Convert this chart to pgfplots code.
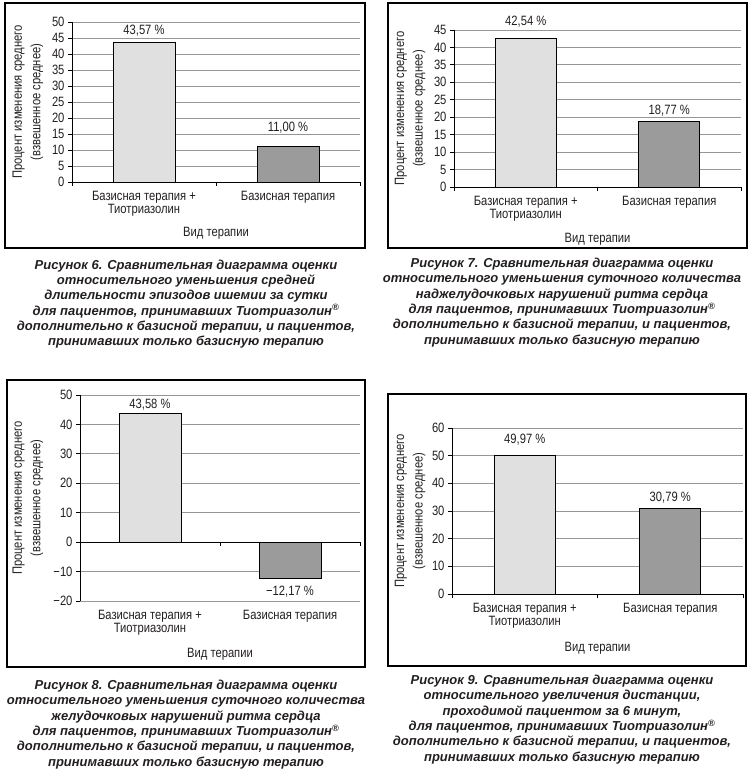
\documentclass[border=0pt]{standalone}
\usepackage{pgfplots}
\pgfplotsset{compat=1.18}
\usepackage{fontspec}
\setmainfont{Liberation Sans}
\newfontfamily\narrow[FakeStretch=0.83]{Liberation Sans}
\definecolor{barA}{RGB}{224,224,224}
\definecolor{barB}{RGB}{155,155,155}
\definecolor{gridc}{RGB}{150,150,150}
\definecolor{txt}{RGB}{35,31,32}
\pgfplotsset{
  panel/.style={
    scale only axis, clip=false,
    xmin=-0.5, xmax=1.5,
    axis lines*=left,
    axis line style={black, line width=0.8pt},
    tick align=outside,
    major tick length=4pt,
    tick style={black, line width=0.8pt},
    ymajorgrids, grid style={gridc, line width=0.8pt},
    xticklabels={},
    extra x ticks={0,1},
    extra x tick labels={{Базисная терапия +\\[-2.5pt]Тиотриазолин},{Базисная терапия}},
    extra x tick style={major tick length=0pt, grid=none},
    ticklabel style={font=\narrow\fontsize{13.5}{16}\selectfont, text=txt},
    xticklabel style={align=center, yshift=-5.5pt},
    /pgf/number format/assume math mode=true,
    label style={font=\narrow\fontsize{13.5}{18.5}\selectfont, text=txt},
    ylabel={Процент изменения среднего\\(взвешенное среднее)},
    xlabel={Вид терапии},
    ylabel style={align=center},
    nodes near coords, point meta=explicit symbolic,
    every node near coord/.append style={font=\narrow\fontsize{13.5}{16}\selectfont, text=txt, anchor=center},
  },
  barone/.style={ybar, bar shift=0pt, fill=barA, draw=black, line width=0.8pt},
  bartwo/.style={ybar, bar shift=0pt, fill=barB, draw=black, line width=0.8pt},
}
\begin{document}
\begin{tikzpicture}[x=1pt,y=1pt]
\useasboundingbox (0,0) rectangle (750,774);
% frames
\draw[line width=1.2pt] (5,526) rectangle (365,771);
\draw[line width=1.2pt] (388,526) rectangle (747,771);
\draw[line width=1.2pt] (7,107) rectangle (365,394);
\draw[line width=1.2pt] (388,108) rectangle (746,380);

% Panel 1
\begin{axis}[panel, at={(72pt,592pt)}, anchor=south west, width=288pt, height=160pt,
  xtick={-0.5,0.5,1.5},
  ymin=0, ymax=50, ytick={0,5,...,50},
  xlabel style={at={(axis description cs:0.5,0)}, anchor=center, yshift=-51pt},
  ylabel style={at={(axis description cs:-0.153,0.5)}, anchor=center},
  bar width=62pt]
\addplot[barone, every node near coord/.append style={yshift=12pt}] coordinates {(0,43.57) [43,57 \%]};
\addplot[bartwo, every node near coord/.append style={yshift=19pt}] coordinates {(1,11.00) [11,00 \%]};
\end{axis}

% Panel 2
\begin{axis}[panel, at={(454pt,587pt)}, anchor=south west, width=287pt, height=157pt,
  xtick={-0.5,0.5,1.5},
  ymin=0, ymax=45, ytick={0,5,...,45},
  xlabel style={at={(axis description cs:0.5,0)}, anchor=center, yshift=-52pt},
  ylabel style={at={(axis description cs:-0.153,0.5)}, anchor=center},
  bar width=61pt]
\addplot[barone, every node near coord/.append style={yshift=17pt}] coordinates {(0,42.54) [42,54 \%]};
\addplot[bartwo, every node near coord/.append style={yshift=11pt}] coordinates {(1,18.77) [18,77 \%]};
\end{axis}

% Panel 3
\begin{axis}[panel, at={(80pt,173pt)}, anchor=south west, width=280pt, height=206pt,
  xtick=\empty,
  ymin=-20, ymax=50, ytick={-20,-10,...,50},
  yticklabels={−20,−10,0,10,20,30,40,50},
  x axis line style={draw=none},
  xlabel style={at={(axis description cs:0.5,0)}, anchor=center, yshift=-53pt},
  ylabel style={at={(axis description cs:-0.186,0.5)}, anchor=center},
  bar width=62pt]
\addplot[barone, every node near coord/.append style={yshift=9pt}] coordinates {(0,43.58) [43,58 \%]};
\addplot[bartwo, every node near coord/.append style={yshift=-14pt}] coordinates {(1,-12.17) [−12,17 \%]};
\draw[black, line width=0.8pt] (axis cs:-0.5,0) -- (axis cs:1.5,0);
\draw[black, line width=0.8pt] (axis cs:0.5,0) -- ++(0pt,-4pt);
\draw[black, line width=0.8pt] (axis cs:1.5,0) -- ++(0pt,-4pt);
\end{axis}

% Panel 4
\begin{axis}[panel, at={(452pt,180pt)}, anchor=south west, width=291pt, height=166pt,
  xtick={-0.5,0.5,1.5},
  ymin=0, ymax=60, ytick={0,10,...,60},
  xlabel style={at={(axis description cs:0.5,0)}, anchor=center, yshift=-54pt},
  ylabel style={at={(axis description cs:-0.144,0.5)}, anchor=center},
  bar width=61pt]
\addplot[barone, every node near coord/.append style={yshift=16pt}] coordinates {(0,49.97) [49,97 \%]};
\addplot[bartwo, every node near coord/.append style={yshift=11pt}] coordinates {(1,30.79) [30,79 \%]};
\end{axis}

% captions
\begin{scope}[every node/.style={align=center, text=txt, font=\fontsize{13}{15.3}\selectfont\bfseries\itshape}]
\node at (186,470) {Рисунок 6. Сравнительная диаграмма оценки\\относительного уменьшения средней\\длительности эпизодов ишемии за сутки\\для пациентов, принимавших Тиотриазолин\textsuperscript{®}\\дополнительно к базисной терапии, и пациентов,\\принимавших только базисную терапию};
\node at (562,471.5) {Рисунок 7. Сравнительная диаграмма оценки\\относительного уменьшения суточного количества\\наджелудочковых нарушений ритма сердца\\для пациентов, принимавших Тиотриазолин\textsuperscript{®}\\дополнительно к базисной терапии, и пациентов,\\принимавших только базисную терапию};
\node at (186,49.5) {Рисунок 8. Сравнительная диаграмма оценки\\относительного уменьшения суточного количества\\желудочковых нарушений ритма сердца\\для пациентов, принимавших Тиотриазолин\textsuperscript{®}\\дополнительно к базисной терапии, и пациентов,\\принимавших только базисную терапию};
\node at (562,54.5) {Рисунок 9. Сравнительная диаграмма оценки\\относительного увеличения дистанции,\\проходимой пациентом за 6 минут,\\для пациентов, принимавших Тиотриазолин\textsuperscript{®}\\дополнительно к базисной терапии, и пациентов,\\принимавших только базисную терапию};
\end{scope}
\end{tikzpicture}
\end{document}
